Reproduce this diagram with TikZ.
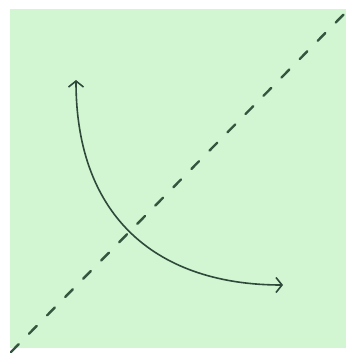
\documentclass[tikz,border=0pt]{standalone}
\usetikzlibrary{arrows.meta}
\definecolor{bggreen}{HTML}{D2F6D2}
\definecolor{inkgreen}{HTML}{2F4A3B}
\definecolor{dashgreen}{HTML}{34563F}
\tikzset{
  bgbox/.style={fill=bggreen, draw=none},
  diag/.style={draw=dashgreen, line width=2.4pt, dash pattern=on 11pt off 14.7pt, line cap=round},
  curvearrow/.style={draw=inkgreen, line width=1.6pt, line cap=round,
    {Straight Barb[length=6pt,width=15pt,line width=1.6pt]}-{Straight Barb[length=6pt,width=15pt,line width=1.6pt]}}
}
\begin{document}
\begin{tikzpicture}[x=1pt,y=-1pt]
\useasboundingbox (0,0) rectangle (350,356);
\fill[bgbox] (10,9) rectangle (346,348);
\coordinate (dA) at (11,352);
\coordinate (dB) at (350,8);
\draw[diag] (dA) -- (dB);
\coordinate (cA) at (76,80);
\coordinate (cB) at (283,285);
\draw[curvearrow] (cA) .. controls (76,220) and (160,285) .. (cB);
\end{tikzpicture}
\end{document}
